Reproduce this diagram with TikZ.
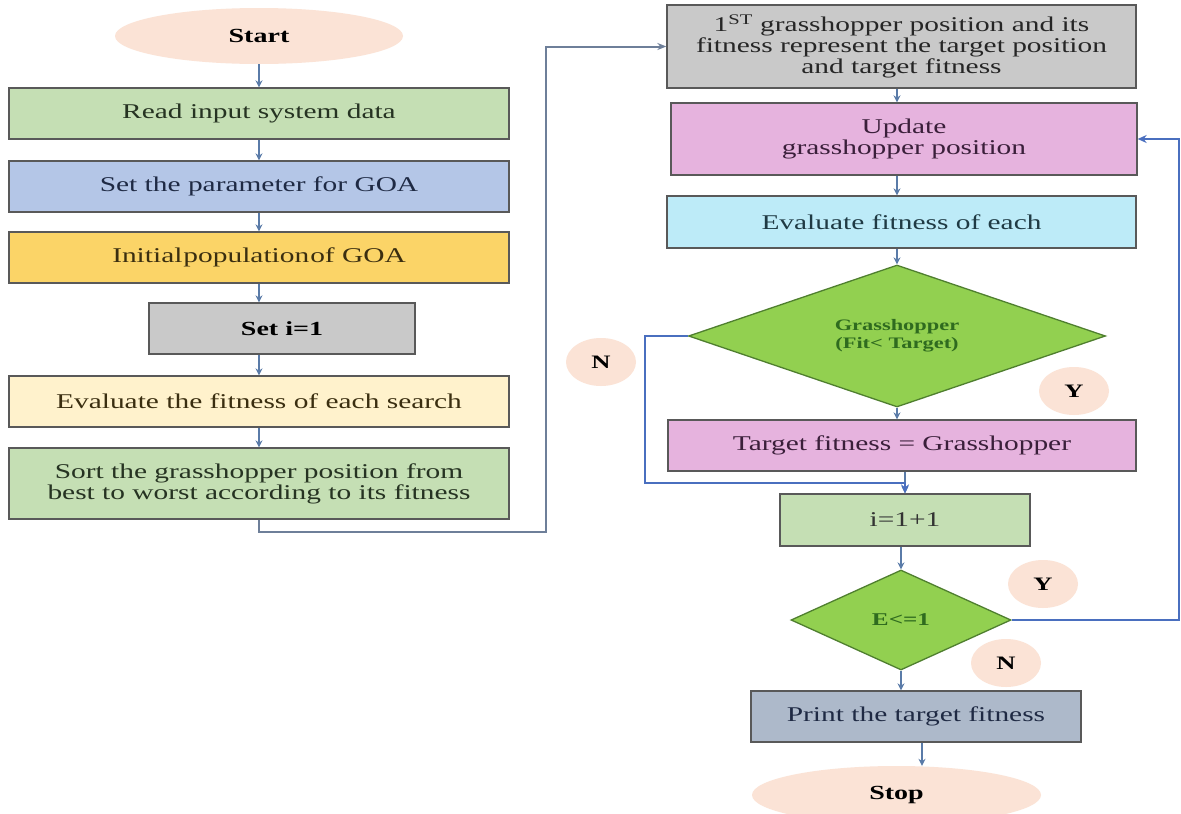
\documentclass[tikz,border=0pt]{standalone}
\usepackage{fontspec}
\setmainfont[FakeStretch=1.4]{Liberation Serif}
\usetikzlibrary{shapes.geometric,arrows.meta}

\definecolor{peach}{HTML}{FBE3D6}
\definecolor{boxline}{HTML}{595959}
\definecolor{cRead}{HTML}{C5DFB4}
\definecolor{cParam}{HTML}{B4C6E7}
\definecolor{cInit}{HTML}{FBD467}
\definecolor{cGray}{HTML}{C9C9C9}
\definecolor{cEvals}{HTML}{FFF2CC}
\definecolor{cPink}{HTML}{E6B3DE}
\definecolor{cCyan}{HTML}{BDEBF8}
\definecolor{cPrint}{HTML}{ADB9CA}
\definecolor{diafill}{HTML}{92D050}
\definecolor{diaedge}{HTML}{4F7F2F}
\definecolor{diatext}{HTML}{2F6B1F}
\definecolor{flowc}{HTML}{5A7BA8}
\definecolor{loopblue}{HTML}{4A6FBF}
\definecolor{linkc}{HTML}{6E7F99}
\definecolor{tGreen}{HTML}{263322}
\definecolor{tNavy}{HTML}{1F2A44}
\definecolor{tBrown}{HTML}{3A2E10}
\definecolor{tPurple}{HTML}{3A1F3A}
\definecolor{tTeal}{HTML}{1F3A44}

\begin{document}
\begin{tikzpicture}[x=1pt,y=-1pt,
  txt/.style={font=\fontsize{21}{21}\selectfont},
  box/.style={rectangle, draw=boxline, line width=1.3pt, inner sep=0pt, align=center, txt},
  term/.style={ellipse, fill=peach, inner sep=0pt, font=\bfseries\fontsize{20}{21}\selectfont},
  badge/.style={ellipse, fill=peach, inner sep=0pt, minimum width=70pt, minimum height=48pt,
    font=\bfseries\fontsize{19}{20}\selectfont},
  decision/.style={diamond, draw=diaedge, fill=diafill, line width=1.3pt, inner sep=0pt,
    align=center, text=diatext, font=\bfseries\fontsize{16}{18}\selectfont},
  flow/.style={draw=flowc, line width=1.6pt, -{Stealth[length=7pt,width=7pt]}},
  loopc/.style={draw=loopblue, line width=2pt, -{Stealth[length=9pt,width=8pt]}},
  linkc/.style={draw=linkc, line width=2pt, -{Stealth[length=9pt,width=7pt]}},
]
\useasboundingbox[fill=white] (0,0) rectangle (1181,814);

% left column
\node[term, minimum width=288pt, minimum height=56pt] (start) at (259,36) {Start};
\node[box, fill=cRead, text=tGreen, minimum width=500pt, minimum height=51pt] (read) at (259,113.5) {Read input system data};
\node[box, fill=cParam, text=tNavy, minimum width=500pt, minimum height=51pt] (param) at (259,186.5) {Set the parameter for GOA};
\node[box, fill=cInit, text=tBrown, minimum width=500pt, minimum height=51pt] (init) at (259,257.5) {Initial\hspace{1pt}population\hspace{1pt}of GOA};
\node[box, fill=cGray, minimum width=266pt, minimum height=51pt, font=\bfseries\fontsize{20}{21}\selectfont] (seti) at (282,328.5) {Set i=1};
\node[box, fill=cEvals, text=tBrown, minimum width=500pt, minimum height=51pt] (evals) at (259,401.5) {Evaluate the fitness of each search};
\node[box, fill=cRead, text=tGreen, minimum width=500pt, minimum height=71pt] (sort) at (259,483.5) {Sort the grasshopper position from\\best to worst according to its fitness};

% right column
\node[box, fill=cGray, text=black!85, minimum width=469pt, minimum height=83pt] (first) at (901.5,46.5) {1\textsuperscript{ST} grasshopper position and its\\fitness represent the target position\\and target fitness};
\node[box, fill=cPink, text=tPurple, minimum width=466pt, minimum height=72pt] (update) at (904,139) {Update\\grasshopper position};
\node[box, fill=cCyan, text=tTeal, minimum width=469pt, minimum height=52pt] (evalf) at (901.5,222) {Evaluate fitness of each};
\node[decision, aspect=2.94, minimum width=417pt, minimum height=142pt] (d1) at (897,336) {Grasshopper\\(Fit< Target)};
\node[box, fill=cPink, text=tPurple, minimum width=468pt, minimum height=51pt] (target) at (902,445.5) {Target fitness = Grasshopper};
\node[box, fill=cRead, text=black!80, minimum width=250pt, minimum height=52pt] (inc) at (905,520) {i=1+1};
\node[decision, aspect=2.2, minimum width=220pt, minimum height=100pt, font=\bfseries\fontsize{18}{19}\selectfont] (d2) at (901,620) {E<=1};
\node[box, fill=cPrint, text=tNavy, minimum width=330pt, minimum height=51pt] (print) at (916,716.5) {Print the target fitness};
\node[term, minimum width=289pt, minimum height=58pt] (stop) at (896.5,795) {Stop};

% branch labels
\node[badge] (n1) at (601,362) {N};
\node[badge] (y1) at (1074,391) {Y};
\node[badge] (y2) at (1043,584) {Y};
\node[badge] (n2) at (1006,663) {N};

% helper points for bent connectors
\coordinate (sA) at (546,532);
\coordinate (nA) at (645,483);
\coordinate (yR) at (1179,620);
\coordinate (pS) at (922,0);

% left column arrows
\draw[flow] (start.south) -- (read.north);
\draw[flow] (read.south) -- (param.north);
\draw[flow] (param.south) -- (init.north);
\draw[flow] (init.south) -- (init.south |- seti.north);
\draw[flow] (seti.south -| init.south) -- (evals.north);
\draw[flow] (evals.south) -- (sort.north);
\draw[linkc] (sort.south) |- (sA) |- (first.west);

% right column arrows
\draw[flow] (first.south -| d1.north) -- (update.north -| d1.north);
\draw[flow] (update.south -| d1.north) -- (evalf.north -| d1.north);
\draw[flow] (evalf.south -| d1.north) -- (d1.north);
\draw[flow] (d1.south) -- (d1.south |- target.north);
\draw[flow] (target.south -| inc.north) -- (inc.north);
\draw[loopc] (d1.west) -| (nA) -| (inc.north);
\draw[flow] (inc.south -| d2.north) -- (d2.north);
\draw[flow] (d2.south) -- (d2.south |- print.north);
\draw[flow] (print.south -| pS) -- (stop.north -| pS);
\draw[loopc] (d2.east) -- (yR) |- (update.east);
\end{tikzpicture}
\end{document}
